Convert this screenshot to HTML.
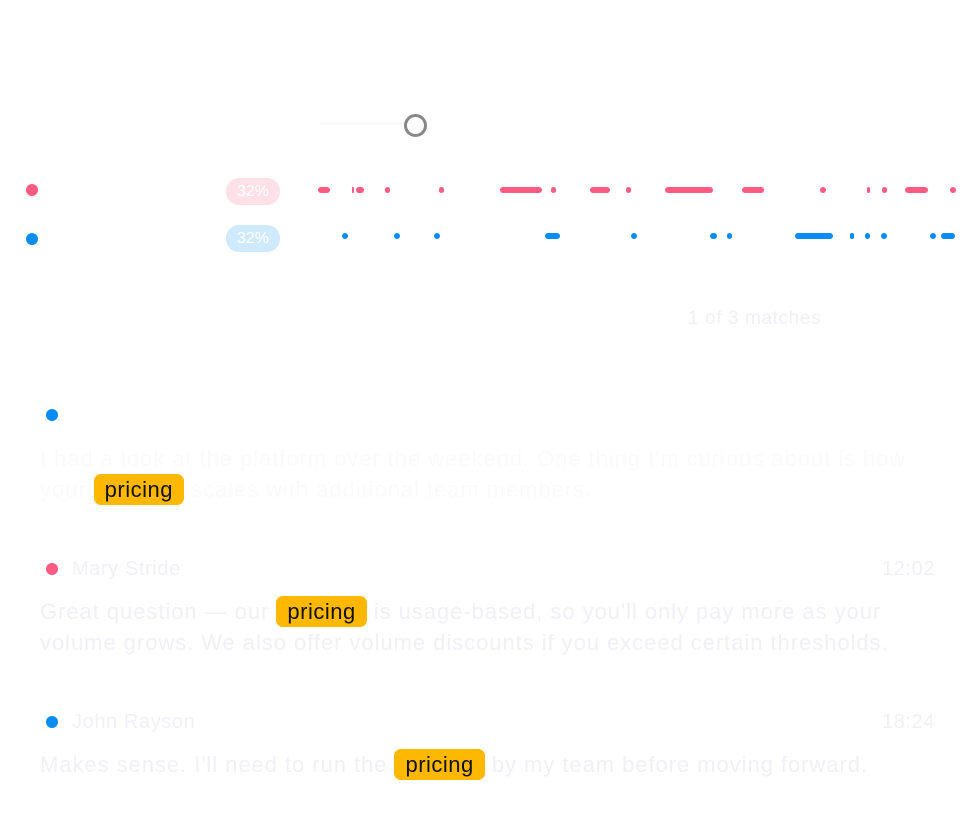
<!DOCTYPE html>
<html><head><meta charset="utf-8"><style>
body{margin:0;width:976px;height:836px;background:#fff;position:relative;overflow:hidden;font-family:"Liberation Sans",sans-serif}
.a{position:absolute;white-space:nowrap}
.seg{position:absolute;height:6px;border-radius:3px}
.r{background:#ff5a82}.b{background:#0a8cf5}
.dot{position:absolute;width:12px;height:12px;border-radius:50%}
.pr{display:inline-block;background:#ffb800;color:#111;border-radius:7px;padding:0 11px;line-height:31px;letter-spacing:0.5px}
.t{color:#f0f0f7;font-size:22px;letter-spacing:0.95px}
.t2{color:#fafafa;font-size:22px;letter-spacing:0.95px}
.n{color:#f0f0f7;font-size:20px;letter-spacing:0.6px}
</style></head><body>
<div class="a" style="left:320px;top:122px;width:85px;height:3px;background:#fafafa"></div>
<div class="a" style="left:404px;top:114px;width:17px;height:17px;border:3px solid #888;border-radius:50%"></div>
<div class="dot r" style="left:26px;top:184px"></div>
<div class="dot b" style="left:26px;top:233px"></div>
<div class="a" style="left:226px;top:178px;width:54px;height:27px;border-radius:13px;background:#fde0e8;color:#fff;font-size:16px;text-align:center;line-height:27px">32%</div>
<div class="a" style="left:226px;top:225px;width:54px;height:27px;border-radius:13px;background:#cfe9fd;color:#fff;font-size:16px;text-align:center;line-height:27px">32%</div>
<div class="seg r" style="left:318px;top:187px;width:12px"></div>
<div class="seg r" style="left:352px;top:187px;width:2px"></div>
<div class="seg r" style="left:356px;top:187px;width:8px"></div>
<div class="seg r" style="left:385px;top:187px;width:5px"></div>
<div class="seg r" style="left:439px;top:187px;width:5px"></div>
<div class="seg r" style="left:500px;top:187px;width:42px"></div>
<div class="seg r" style="left:551px;top:187px;width:5px"></div>
<div class="seg r" style="left:590px;top:187px;width:20px"></div>
<div class="seg r" style="left:626px;top:187px;width:5px"></div>
<div class="seg r" style="left:665px;top:187px;width:48px"></div>
<div class="seg r" style="left:742px;top:187px;width:22px"></div>
<div class="seg r" style="left:820px;top:187px;width:6px"></div>
<div class="seg r" style="left:867px;top:187px;width:3px"></div>
<div class="seg r" style="left:882px;top:187px;width:5px"></div>
<div class="seg r" style="left:905px;top:187px;width:23px"></div>
<div class="seg r" style="left:950px;top:187px;width:6px"></div>
<div class="seg b" style="left:342px;top:233px;width:6px"></div>
<div class="seg b" style="left:394px;top:233px;width:6px"></div>
<div class="seg b" style="left:434px;top:233px;width:6px"></div>
<div class="seg b" style="left:545px;top:233px;width:15px"></div>
<div class="seg b" style="left:631px;top:233px;width:6px"></div>
<div class="seg b" style="left:710px;top:233px;width:7px"></div>
<div class="seg b" style="left:727px;top:233px;width:5px"></div>
<div class="seg b" style="left:795px;top:233px;width:38px"></div>
<div class="seg b" style="left:850px;top:233px;width:4px"></div>
<div class="seg b" style="left:865px;top:233px;width:5px"></div>
<div class="seg b" style="left:881px;top:233px;width:6px"></div>
<div class="seg b" style="left:930px;top:233px;width:6px"></div>
<div class="seg b" style="left:941px;top:233px;width:14px"></div>
<div class="a n" style="left:688px;top:308px;font-size:19px">1 of 3 matches</div>
<div class="dot b" style="left:46px;top:409px"></div>
<div class="a t2" style="left:40px;top:446px">I had a look at the platform over the weekend. One thing I'm curious about is how</div>
<div class="a t2" style="left:40px;top:474px;line-height:31px">your <span class="pr">pricing</span> scales with additional team members.</div>
<div class="dot r" style="left:46px;top:563px"></div>
<div class="a n" style="left:72px;top:558px">Mary Stride</div>
<div class="a n" style="left:882px;top:558px">12:02</div>
<div class="a t" style="left:40px;top:596px;line-height:31px">Great question — our <span class="pr">pricing</span> is usage-based, so you'll only pay more as your</div>
<div class="a t" style="left:40px;top:630px">volume grows. We also offer volume discounts if you exceed certain thresholds.</div>
<div class="dot b" style="left:46px;top:716px"></div>
<div class="a n" style="left:72px;top:711px">John Rayson</div>
<div class="a n" style="left:882px;top:711px">18:24</div>
<div class="a t" style="left:40px;top:749px;line-height:31px">Makes sense. I'll need to run the <span class="pr">pricing</span> by my team before moving forward.</div>
</body></html>
